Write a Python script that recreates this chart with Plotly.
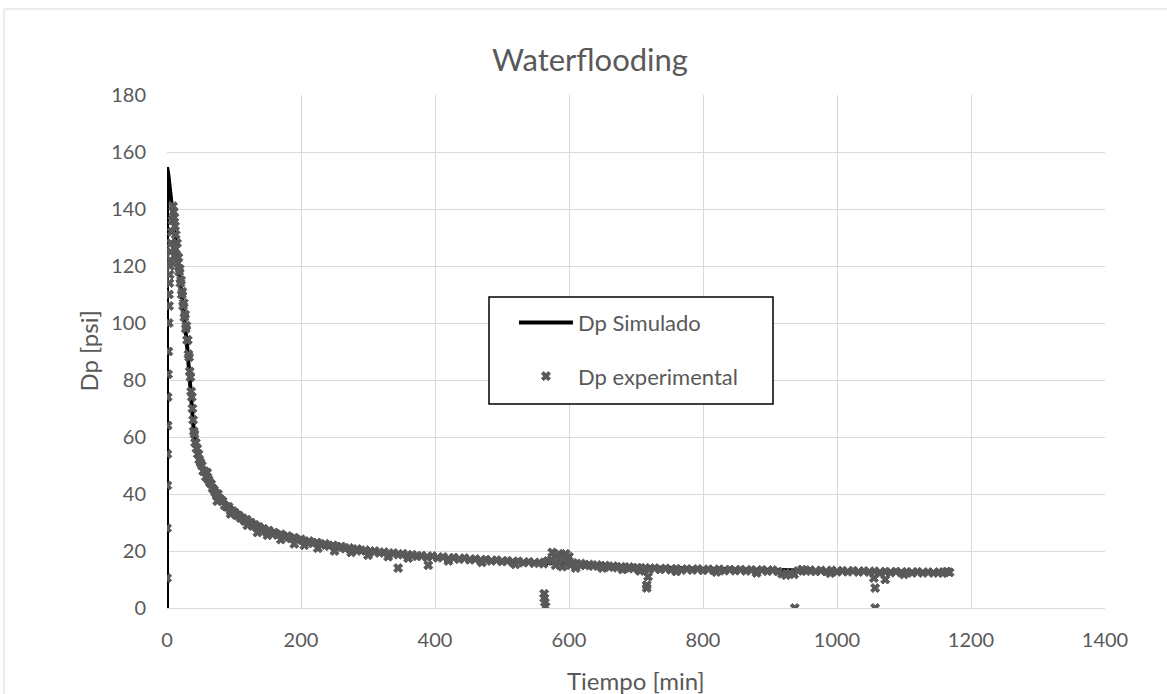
import plotly.graph_objects as go

# ---------------- data ----------------
sim_time = [0, 0, 0.5, 2, 5, 10, 15, 20, 25, 30, 35, 40, 45, 50, 60, 70, 80, 100,
            125, 150, 200, 250, 300, 400, 500, 600, 700, 800, 900, 1000, 1100, 1165]
sim_dp = [0, 154, 154, 152, 146, 136, 124, 113, 103, 92, 78, 62, 54, 50, 45, 41, 38.5, 34.5,
          30.5, 27.5, 24, 21.5, 19.8, 17.8, 16.5, 15.3, 14.4, 13.8, 13.3, 13, 12.7, 12.5]

ramp_time = [0, 0, 0.5, 0.5, 1, 1, 1.5, 2, 2.5, 3, 3, 3.5, 4, 4.5, 5, 5, 6, 7, 8, 9, 10]
ramp_dp = [10.5, 28, 43, 54, 64, 74, 82, 90, 100, 106, 110, 114, 117, 120, 122, 125, 128,
           132, 136, 141, 139]

steep_time = [11, 12, 12, 13, 14, 15, 16, 17, 18, 19,
              20, 21, 22, 23, 24, 25, 26, 27, 28, 29,
              30, 31, 32, 33, 34, 35, 36, 37, 38, 39,
              40, 41, 42, 43, 44, 45, 46, 47, 48, 50,
              52, 54, 56, 58, 60, 62, 64, 66, 68, 70,
              72, 74, 76, 78, 80, 83, 86, 89, 92, 95,
              98, 101, 104, 107, 110]
steep_dp = [137, 134, 126, 131, 124, 128, 121, 123, 118, 119,
            114, 115, 110, 111, 106, 107, 102, 103, 98, 99,
            94, 94, 89, 88, 83, 81, 76, 74, 70, 66,
            62, 61, 58, 58, 56, 56, 54, 54, 52, 51,
            50, 48, 48, 46, 46, 45, 44, 43.5, 42, 41.5,
            40.5, 39.5, 40, 38.5, 38, 37.5, 36, 35.5, 35.5, 34,
            34, 33.5, 32.5, 32.5, 31.5]

tail_time = [113, 116, 119, 122, 125, 128, 131, 134, 137, 140,
             144, 148, 152, 156, 160, 165, 170, 175, 180, 185,
             190, 195, 200, 206, 212, 218, 224, 230, 236, 242,
             248, 254, 260, 266, 272, 278, 284, 290, 296, 303,
             310, 317, 324, 331, 338, 345, 352, 359, 366, 373,
             380, 388, 396, 404, 412, 420, 428, 436, 444, 452,
             460, 468, 476, 484, 492, 500, 508, 516, 524, 532,
             540, 548, 556, 562, 568, 574, 580, 585, 590, 595,
             598, 602, 606, 612, 618, 624, 630, 636, 642, 648,
             654, 660, 666, 672, 678, 684, 690, 696, 702, 708,
             714, 720, 728, 736, 744, 752, 760, 768, 776, 784,
             792, 800, 808, 816, 824, 832, 840, 848, 856, 864,
             872, 880, 888, 896, 904, 912, 918, 924, 930, 936,
             942, 948, 954, 960, 968, 976, 984, 992, 1000, 1008,
             1016, 1024, 1032, 1040, 1048, 1056, 1064, 1072, 1080, 1088,
             1096, 1104, 1112, 1120, 1128, 1136, 1144, 1152, 1158, 1164,
             1168]
tail_dp = [31.5, 30.5, 31, 29.8, 30, 28.8, 29.2, 28.2, 28.5, 27.6,
           27.8, 26.8, 27.2, 26.2, 26.5, 25.6, 25.9, 25, 25.3, 24.4,
           24.7, 23.8, 24.1, 23.2, 23.5, 22.7, 23, 22.1, 22.5, 21.7,
           22, 21.3, 21.6, 20.8, 21.1, 20.4, 20.7, 20, 20.3, 19.7,
           20, 19.3, 19.6, 19, 19.3, 18.7, 19, 18.4, 18.7, 18.1,
           18.4, 17.8, 18.2, 17.6, 17.9, 17.3, 17.7, 17.1, 17.5, 16.9,
           17.2, 16.7, 17, 16.5, 16.8, 16.3, 16.6, 16.1, 16.4, 15.9,
           16.2, 15.7, 16, 15.5, 16.5, 17, 18, 19, 18.5, 17.5,
           16, 15, 15.8, 15.2, 15.6, 14.9, 15.3, 14.7, 15.1, 14.5,
           14.9, 14.3, 14.7, 14.1, 14.5, 14, 14.4, 13.8, 14.2, 13.7,
           14.1, 13.6, 14, 13.5, 13.9, 13.4, 13.8, 13.3, 13.7, 13.3,
           13.7, 13.2, 13.6, 13.2, 13.6, 13.1, 13.5, 13.1, 13.5, 13,
           13.4, 13, 13.4, 12.9, 13.3, 12.8, 12, 11.5, 12.2, 11.8,
           13, 13.5, 12.9, 13.3, 12.8, 13.2, 12.8, 13.2, 12.7, 13.1,
           12.7, 13.1, 12.6, 13, 12.6, 12.9, 12.2, 12.8, 12.4, 12.8,
           12.4, 12.7, 12.3, 12.7, 12.3, 12.6, 12.3, 12.6, 12.2, 12.8,
           12.5]

# scattered points just below/above the main band
spread_time = [60, 75, 95, 120, 135, 150, 170, 190, 205, 225, 250, 275, 300, 330, 360,
               420, 470, 520, 650, 680, 760, 820, 880, 990, 1100]
spread_dp = [47.5, 37.5, 33, 29, 26.5, 25.5, 24, 22.5, 22, 21, 20, 19.5, 18.5, 18, 17.5,
             16.5, 16, 15.3, 14, 13.5, 12.8, 12.6, 12.3, 12.2, 11.8]

outlier_time = [345, 390, 563, 563, 564, 565, 575, 585, 595, 600, 580, 590,
                610, 706, 716, 716, 718, 937, 1055, 1057, 1057, 1072]
outlier_dp = [14, 15, 5, 3.5, 2, 0.5, 19.5, 17, 19, 18, 15, 14.5,
              14, 13, 8, 7, 11, 0, 10.5, 7, 0, 10]

exp_time = ramp_time + steep_time + tail_time + spread_time + outlier_time
exp_dp = ramp_dp + steep_dp + tail_dp + spread_dp + outlier_dp

x_ticks = [0, 200, 400, 600, 800, 1000, 1200, 1400]
y_ticks = [0, 20, 40, 60, 80, 100, 120, 140, 160, 180]

# ---------------- figure ----------------
FONT = "Lato, 'Open Sans', sans-serif"
TXT = "#595959"
GRID = "#d9d9d9"

fig = go.Figure()
fig.add_trace(go.Scatter(
    x=sim_time, y=sim_dp, mode="lines", name="Dp Simulado",
    line=dict(color="#000000", width=4), legendgroup="a"))
fig.add_trace(go.Scatter(
    x=exp_time, y=exp_dp, mode="markers", name="Dp experimental",
    marker=dict(symbol="x", size=8, color=TXT, line=dict(width=1, color=TXT)),
    legendgroup="b"))

fig.update_layout(
    width=1167, height=694,
    margin=dict(l=167, r=62, t=95, b=86),
    paper_bgcolor="white", plot_bgcolor="white",
    font=dict(family=FONT, color=TXT, size=20),
    title=dict(text="Waterflooding", x=0.5056, xref="container", xanchor="center",
               y=1 - 60 / 694, yref="container", yanchor="middle",
               font=dict(size=31, color=TXT, family=FONT)),
    showlegend=True,
    legend=dict(x=0.3699, y=0.597, xanchor="left", yanchor="top",
                bgcolor="rgba(0,0,0,0)", borderwidth=0,
                font=dict(size=22, color=TXT, family=FONT),
                itemwidth=54, tracegroupgap=22, traceorder="grouped"),
    xaxis=dict(range=[0, 1400], tickvals=x_ticks, showgrid=True, gridcolor=GRID,
               gridwidth=1, zeroline=False, showline=True, linecolor=GRID, linewidth=1,
               ticks="", ticklabelstandoff=14, tickfont=dict(size=20, color=TXT)),
    yaxis=dict(range=[0, 180], tickvals=y_ticks, showgrid=True, gridcolor=GRID,
               gridwidth=1, zeroline=False, showline=False,
               ticks="", ticklabelstandoff=20, tickfont=dict(size=20, color=TXT)),
    annotations=[
        dict(text="Tiempo [min]", x=0.5, y=(608 - 680) / 513, xref="paper", yref="paper",
             xanchor="center", yanchor="middle", showarrow=False,
             font=dict(size=24, color=TXT, family=FONT)),
        dict(text="Dp [psi]", x=(88 - 167) / 938, y=0.5, xref="paper", yref="paper",
             xanchor="center", yanchor="middle", showarrow=False, textangle=-90,
             font=dict(size=24, color=TXT, family=FONT)),
    ],
    shapes=[
        dict(type="rect", xref="paper", yref="paper",
             x0=(489 - 167) / 938, x1=(773 - 167) / 938,
             y0=(608 - 404) / 513, y1=(608 - 297) / 513,
             line=dict(color="#000000", width=1.5), fillcolor="white", layer="above"),
        dict(type="rect", xref="paper", yref="paper",
             x0=(4 - 167) / 938, x1=1.2, y0=-0.3, y1=(608 - 9) / 513,
             line=dict(color=GRID, width=1), fillcolor="rgba(0,0,0,0)", layer="below"),
    ],
)

fig.write_html("out.html")
